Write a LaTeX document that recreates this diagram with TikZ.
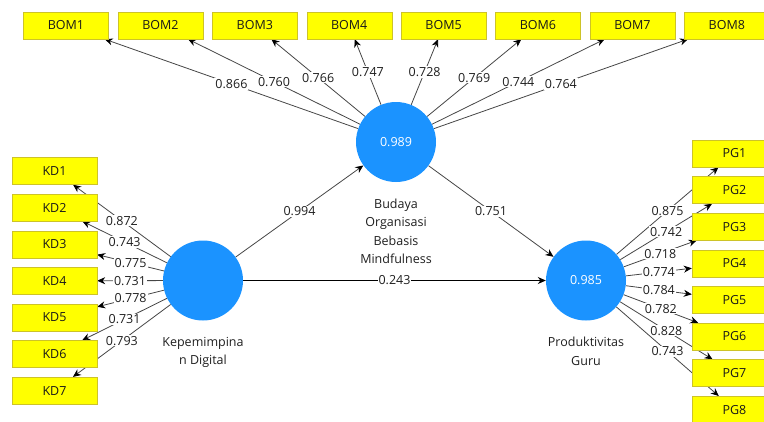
\documentclass[tikz,border=0pt]{standalone}
\usepackage{fontspec}
\setmainfont{Open Sans}
\usetikzlibrary{arrows.meta,backgrounds,positioning}
\definecolor{boxfill}{RGB}{255,255,0}
\definecolor{boxline}{RGB}{205,195,40}
\definecolor{lvblue}{RGB}{27,147,255}
\definecolor{pathgray}{RGB}{70,70,70}

\begin{document}
\begin{tikzpicture}[x=1pt,y=-1pt,
  font=\fontsize{12.5}{18.5}\selectfont,
  indicator/.style={draw=boxline,fill=boxfill,minimum width=85pt,minimum height=27pt,inner sep=0pt,text=black!90},
  latent/.style={circle,fill=lvblue,minimum size=80pt,inner sep=0pt,text=white},
  loading/.style={draw=pathgray,line width=0.8pt,-{Stealth[length=8pt,width=7pt,black]}},
  coef/.style={fill=white,inner sep=1pt,text=black!88,pos=0.5},
  caption/.style={align=center,text=black!88,below=13pt}]
\useasboundingbox (0,0) rectangle (764,421);

% latent variables
\node[latent] (kd) at (203,280.5) {};
\node[latent] (bom) at (396,142) {0.989};
\node[latent] (pg) at (586,280.5) {0.985};

\node[caption] (kdlabel) at (kd.south) {Kepemimpina\\n Digital};
\node[caption] (bomlabel) at (bom.south) {Budaya\\Organisasi\\Bebasis\\Mindfulness};
\node[caption] (pglabel) at (pg.south) {Produktivitas\\Guru};

% indicators of BOM
\node[indicator] (bom1) at (66,25.5) {BOM1};
\node[indicator] (bom2) at (160.4,25.5) {BOM2};
\node[indicator] (bom3) at (254.8,25.5) {BOM3};
\node[indicator] (bom4) at (349.2,25.5) {BOM4};
\node[indicator] (bom5) at (443.6,25.5) {BOM5};
\node[indicator] (bom6) at (538,25.5) {BOM6};
\node[indicator] (bom7) at (632.4,25.5) {BOM7};
\node[indicator] (bom8) at (726.8,25.5) {BOM8};

% indicators of KD
\node[indicator] (kd1) at (54.5,171) {KD1};
\node[indicator] (kd2) at (54.5,207.6) {KD2};
\node[indicator] (kd3) at (54.5,244.2) {KD3};
\node[indicator] (kd4) at (54.5,280.8) {KD4};
\node[indicator] (kd5) at (54.5,317.4) {KD5};
\node[indicator] (kd6) at (54.5,354) {KD6};
\node[indicator] (kd7) at (54.5,390.6) {KD7};

% indicators of PG
\node[indicator] (pg1) at (734.5,153.5) {PG1};
\node[indicator] (pg2) at (734.5,190.1) {PG2};
\node[indicator] (pg3) at (734.5,226.7) {PG3};
\node[indicator] (pg4) at (734.5,263.3) {PG4};
\node[indicator] (pg5) at (734.5,299.9) {PG5};
\node[indicator] (pg6) at (734.5,336.5) {PG6};
\node[indicator] (pg7) at (734.5,373.1) {PG7};
\node[indicator] (pg8) at (734.5,409.7) {PG8};

\begin{pgfonlayer}{background}
\draw[loading] (bom) -- node[coef] {0.866} (bom1);
\draw[loading] (bom) -- node[coef] {0.760} (bom2);
\draw[loading] (bom) -- node[coef] {0.766} (bom3);
\draw[loading] (bom) -- node[coef] {0.747} (bom4);
\draw[loading] (bom) -- node[coef] {0.728} (bom5);
\draw[loading] (bom) -- node[coef] {0.769} (bom6);
\draw[loading] (bom) -- node[coef] {0.744} (bom7);
\draw[loading] (bom) -- node[coef] {0.764} (bom8);

\draw[loading] (kd) -- node[coef] {0.872} (kd1);
\draw[loading] (kd) -- node[coef] {0.743} (kd2);
\draw[loading] (kd) -- node[coef] {0.775} (kd3);
\draw[loading] (kd) -- node[coef] {0.731} (kd4);
\draw[loading] (kd) -- node[coef] {0.778} (kd5);
\draw[loading] (kd) -- node[coef] {0.731} (kd6);
\draw[loading] (kd) -- node[coef] {0.793} (kd7);

\draw[loading] (pg) -- node[coef] {0.875} (pg1);
\draw[loading] (pg) -- node[coef] {0.742} (pg2);
\draw[loading] (pg) -- node[coef] {0.718} (pg3);
\draw[loading] (pg) -- node[coef] {0.774} (pg4);
\draw[loading] (pg) -- node[coef] {0.784} (pg5);
\draw[loading] (pg) -- node[coef] {0.782} (pg6);
\draw[loading] (pg) -- node[coef] {0.828} (pg7);
\draw[loading] (pg) -- node[coef] {0.743} (pg8);

% structural paths
\draw[loading] (kd) -- node[coef] {0.994} (bom);
\draw[loading] (bom) -- node[coef] {0.751} (pg);
\draw[loading,draw=black] (kd) -- node[coef] {0.243} (pg);
\end{pgfonlayer}

\end{tikzpicture}
\end{document}
